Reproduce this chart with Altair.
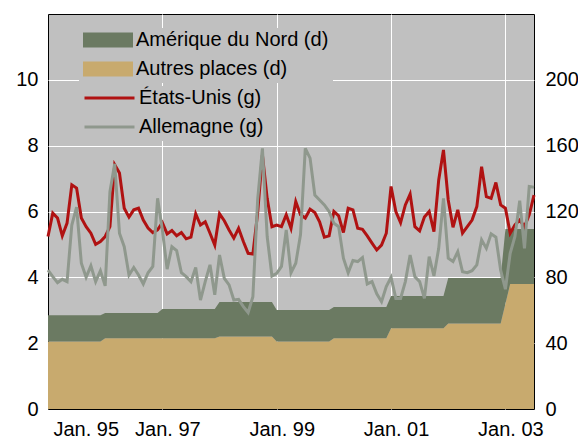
import altair as alt
import pandas as pd

FONT = "Liberation Sans"

# Monthly series, Jan. 1995 - Jul. 2003 (left axis, "g")
etats_unis = [5.24, 5.95, 5.8, 5.26, 5.65, 6.81, 6.71, 5.8, 5.54, 5.34, 5.0, 5.09,
              5.24, 5.54, 7.42, 7.17, 6.1, 5.83, 6.05, 6.1, 5.74, 5.5, 5.36, 5.44,
              5.66, 5.32, 5.42, 5.26, 5.36, 5.17, 5.22, 5.93, 5.59, 5.69, 5.34, 4.98,
              5.93, 5.72, 5.44, 5.19, 5.49, 5.09, 4.73, 4.71, 5.95, 7.72, 6.4, 5.54,
              5.59, 5.54, 5.9, 5.49, 6.3, 5.9, 5.8, 6.07, 5.97, 5.69, 5.22, 5.26,
              6.0, 5.87, 5.36, 6.1, 6.05, 5.49, 5.46, 5.26, 5.04, 4.83, 4.98, 5.34,
              6.76, 6.0, 5.66, 6.2, 6.53, 5.54, 5.41, 5.83, 6.0, 5.39, 6.96, 7.87,
              6.35, 5.52, 6.05, 5.34, 5.54, 5.74, 6.15, 7.36, 6.45, 6.4, 6.88, 6.2,
              6.1, 5.34, 5.59, 5.74, 5.54, 5.9, 6.5]
allemagne = [4.22, 4.02, 3.84, 3.94, 3.87, 5.59, 6.13, 4.43, 4.0, 4.35, 3.87, 4.2,
             3.74, 6.6, 7.45, 5.34, 4.93, 4.07, 4.3, 4.07, 3.8, 4.14, 4.33, 6.4,
             5.44, 4.25, 4.93, 4.81, 4.14, 4.02, 3.87, 4.3, 3.31, 3.87, 4.38, 3.47,
             4.68, 3.97, 3.77, 3.31, 3.33, 3.11, 2.93, 3.41, 6.35, 7.92, 5.24, 4.04,
             4.12, 4.33, 5.44, 4.14, 4.43, 5.3, 7.92, 7.62, 6.5, 6.35, 6.2, 6.0,
             5.64, 5.54, 4.58, 4.14, 4.51, 4.48, 4.6, 3.8, 3.87, 3.5, 3.26, 3.72,
             4.0, 3.36, 3.36, 3.87, 4.68, 4.02, 3.87, 3.36, 4.63, 4.04, 4.88, 6.4,
             4.58, 4.48, 4.78, 4.17, 4.14, 4.2, 4.38, 5.14, 4.88, 5.32, 5.22, 4.22,
             3.64, 4.73, 5.24, 6.33, 4.88, 6.76, 6.74]

# Stacked areas (right axis, "d")
autres_places = ([41] * 12 + [43] * 12 + [43] * 12 + [44] * 12 + [41] * 12 +
                 [43] * 12 + [49] * 12 + [52] * 12 + [64, 76, 76, 76, 76, 76, 76])
amerique_nord = ([16] * 12 + [15.4] * 12 + [17.8] * 12 + [21] * 12 + [19.2] * 12 +
                 [19] * 12 + [19.6] * 12 + [27.6] * 12 + [45.4, 33.4, 33.4, 33.4, 33.4, 33.4, 33.4])

area_names = ["Amérique du Nord (d)", "Autres places (d)"]
line_names = ["États-Unis (g)", "Allemagne (g)"]
x_ticks = [1995, 1997, 1999, 2001, 2003]
left_ticks = [0, 2, 4, 6, 8, 10]
right_ticks = [0, 40, 80, 120, 160, 200]

n = len(etats_unis)
t = [1995 + i / 12 for i in range(n)]

line_df = pd.concat([
    pd.DataFrame({"t": t, "v": etats_unis, "s": line_names[0]}),
    pd.DataFrame({"t": t, "v": allemagne, "s": line_names[1]}),
])
area_df = pd.concat([
    pd.DataFrame({"t": t, "v": autres_places, "s": area_names[1], "o": 0}),
    pd.DataFrame({"t": t, "v": amerique_nord, "s": area_names[0], "o": 1}),
])

x_axis = alt.Axis(values=x_ticks,
                  labelExpr="'Jan. ' + substring(toString(datum.value), 2, 4)",
                  grid=True, gridColor="white", gridWidth=1,
                  gridOpacity={"condition": {"test": "datum.value == 1995", "value": 0}, "value": 1},
                  ticks=False, domain=False, labelFontSize=20, labelPadding=26,
                  labelBaseline="alphabetic",
                  labelOffset=5, labelColor="black", labelFont=FONT, title=None)
x_enc = alt.X("t:Q", scale=alt.Scale(domain=[1995, 2003.5], nice=False, zero=False), axis=x_axis)

legend_common = dict(title=None, orient="none", padding=4, fillColor="#c0c0c0",
                     symbolSize=2500, clipHeight=16, rowPadding=9, labelFontSize=20,
                     labelOffset=3, labelFont=FONT, labelColor="black", labelLimit=400)

area = alt.Chart(area_df).mark_area(opacity=1, interpolate="linear").encode(
    x=x_enc,
    y=alt.Y("v:Q", stack="zero",
            scale=alt.Scale(domain=[0, 240], nice=False),
            axis=alt.Axis(orient="right", values=right_ticks, grid=False, ticks=False,
                          domain=False, labelFontSize=20, labelPadding=11,
                          labelColor="black", labelFont=FONT, title=None)),
    color=alt.Color("s:N",
                    scale=alt.Scale(domain=area_names, range=["#6b7a62", "#c8aa6e"]),
                    legend=alt.Legend(legendX=31, legendY=14,
                                      symbolType="M-1,-0.3H1V0.3H-1Z",
                                      symbolStrokeWidth=0, symbolOpacity=1,
                                      **legend_common)),
    order=alt.Order("o:Q"),
)

lines = alt.Chart(line_df).mark_line(strokeWidth=3).encode(
    x=x_enc,
    y=alt.Y("v:Q",
            scale=alt.Scale(domain=[0, 12], nice=False),
            axis=alt.Axis(orient="left", values=left_ticks, grid=True, gridColor="white",
                          gridWidth=1,
                          gridOpacity={"condition": {"test": "datum.value == 0", "value": 0}, "value": 1},
                          ticks=False, domain=False, labelFontSize=20, labelPadding=10,
                          labelColor="black", labelFont=FONT, title=None)),
    color=alt.Color("s:N",
                    scale=alt.Scale(domain=line_names, range=["#b01212", "#8f988d"]),
                    legend=alt.Legend(legendX=31, legendY=72,
                                      symbolType="stroke", symbolStrokeWidth=3,
                                      **legend_common)),
    detail="s:N",
)

chart = alt.layer(area, lines).resolve_scale(
    y="independent", color="independent"
).resolve_legend(color="independent").properties(
    width=486, height=395,
    autosize=alt.AutoSizeParams(type="none"),
    padding={"left": 40, "top": 6, "right": 44, "bottom": 31},
    background="white",
).configure_view(
    fill="#c0c0c0", stroke="black", strokeWidth=1
)

chart.save("out.html", embed_options={"renderer": "svg", "actions": False})
